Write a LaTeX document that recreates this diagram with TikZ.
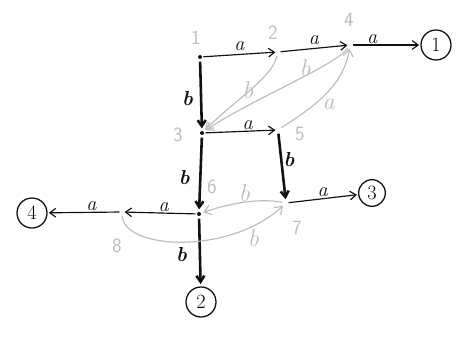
\documentclass[tikz,border=0pt]{standalone}
\usepackage{tikz}
\usetikzlibrary{arrows.meta,positioning}
\definecolor{InkBlack}{HTML}{111111}
\definecolor{PencilGray}{HTML}{BDBDBD}

\begin{document}
\begin{tikzpicture}[x=0.03cm,y=-0.03cm,
  every node/.style={font=\small,align=center},
  pt/.style={inner sep=1pt},
  dot/.style={circle,fill=InkBlack,inner sep=0pt,minimum size=1.2mm},
  final/.style={circle,draw=InkBlack,line width=1.1pt,minimum size=9mm,inner sep=0pt,font=\LARGE},
  idx/.style={text=PencilGray,font=\LARGE\sffamily},
  lbl/.style={font=\LARGE\itshape,inner sep=1pt},
  blbl/.style={font=\LARGE\itshape\bfseries,inner sep=2pt},
  glbl/.style={font=\huge\itshape,text=PencilGray,inner sep=1pt},
  aedge/.style={-{Straight Barb[length=1.8mm,width=2.6mm]},line width=1pt,color=InkBlack,shorten <=1pt,shorten >=1pt},
  bedge/.style={-{Straight Barb[length=1.8mm,width=2.4mm]},line width=2.2pt,color=InkBlack,shorten <=2pt,shorten >=2pt},
  back/.style={-{Straight Barb[length=2mm,width=3mm]},line width=1pt,color=PencilGray,shorten <=2pt,shorten >=2pt}
]
\useasboundingbox (0,0) rectangle (465,341);
% states
\node[dot] (s1) at (200,57) {};
\node[pt] (s2) at (278,52) {};
\node[pt] (s4) at (350,45) {};
\node[dot] (s3) at (202,133) {};
\node[pt] (s5) at (278,130) {};
\node[pt] (s7) at (286,203) {};
\node[dot] (s6) at (199,214) {};
\node[pt] (s8) at (122,212) {};
% final states
\node[final] (f1) at (436,45) {1};
\node[final] (f2) at (201,302) {2};
\node[final,minimum size=8mm] (f3) at (372,193) {3};
\node[final] (f4) at (32,213) {4};
% indices
\node[idx] at (196,38) {1};
\node[idx] at (273,33) {2};
\node[idx] at (349,20) {4};
\node[idx] at (178,135) {3};
\node[idx] at (300,134) {5};
\node[idx] at (212,187) {6};
\node[idx] at (297,228) {7};
\node[idx] at (117,246) {8};
% black transitions
\draw[aedge] (s1) -- node[lbl,above=2pt] {a} (s2);
\draw[aedge] (s2) -- node[lbl,above=2pt] {a} (s4);
\draw[aedge] (s4) -- node[lbl,above,pos=.3] {a} (f1);
\draw[bedge] (s1) -- node[blbl,left=4pt,pos=.55] {b} (s3);
\draw[aedge] (s3) -- node[lbl,above,pos=.6] {a} (s5);
\draw[bedge] (s5) -- node[blbl,right=-1pt,pos=.4] {b} (s7);
\draw[aedge] (s7) -- node[lbl,above,pos=.5] {a} (f3);
\draw[bedge] (s3) -- node[blbl,left=6pt,pos=.55] {b} (s6);
\draw[aedge] (s6) -- node[lbl,above,pos=.45] {a} (s8);
\draw[aedge] (s8) -- node[lbl,above,pos=.4] {a} (f4);
\draw[bedge] (s6) -- node[blbl,left=8pt,pos=.55] {b} (f2);
% grey transitions
\draw[back] (s2) .. controls (272,78) and (235,100) .. node[glbl,left=-4pt,pos=.5] {b} (s3);
\draw[back] (s4) .. controls (335,66) and (250,100) .. node[glbl,above=-2pt,pos=.4] {b} (s3);
\draw[back] (s5) .. controls (305,112) and (343,90) .. node[glbl,below right=-1pt,pos=.5] {a} (s4);
\draw[back] (s7) .. controls (260,198) and (230,203) .. node[glbl,above=-1pt] {b} (s6);
\draw[back] (s8) .. controls (124,250) and (230,255) .. node[glbl,below right=-1pt,pos=.8] {b} (s7);
\end{tikzpicture}
\end{document}
